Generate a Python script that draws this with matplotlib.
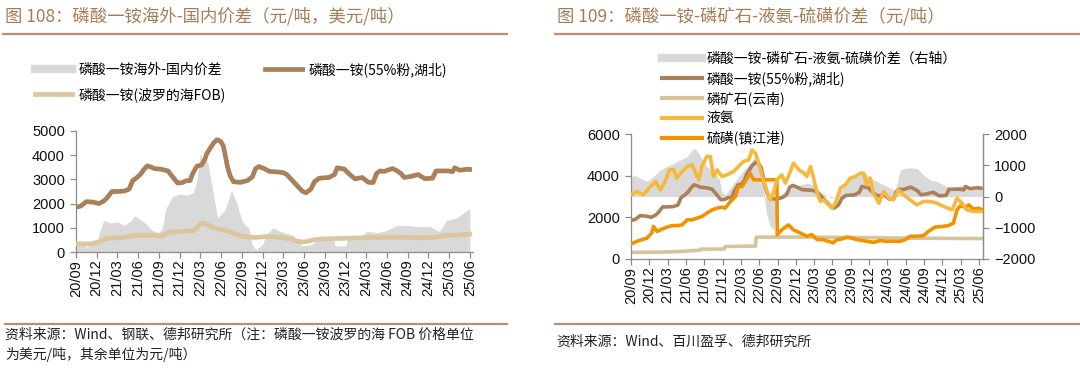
import matplotlib
matplotlib.use("Agg")
import matplotlib.pyplot as plt
from matplotlib.lines import Line2D
import numpy as np

plt.rcParams['font.family'] = ['Liberation Sans', 'Noto Sans CJK SC', 'DejaVu Sans']
CJK = ['Noto Sans CJK SC', 'DejaVu Sans']

# ---------------- data (x = months since 2020-09) ----------------
tick_labels = ['20/09', '20/12', '21/03', '21/06', '21/09', '21/12', '22/03', '22/06',
               '22/09', '22/12', '23/03', '23/06', '23/09', '23/12', '24/03', '24/06',
               '24/09', '24/12', '25/03', '25/06']

# 磷酸一铵(55%粉,湖北) 元/吨
map_m = [0, 0.7, 1.5, 2.5, 3.3, 4, 4.5, 5.2, 6, 7, 7.7, 8.2, 8.7, 9.3, 9.8, 10.3, 10.8, 11.3,
         12.3, 13.3, 14, 14.7, 15.3, 16, 16.5, 16.9, 17.5, 18.2, 18.6, 18.9, 19.4, 19.9, 20.4,
         20.9, 21.3, 21.6, 21.9, 22.3, 22.8, 23.8, 24.8, 25.5, 26, 26.5, 27.2, 28, 29.1, 30,
         30.5, 31, 31.8, 32.8, 33.3, 34, 34.5, 35.2, 36.6, 37.4, 37.8, 38.8, 39.7, 40.4, 41.4,
         42.3, 43, 43.5, 44, 44.6, 45.8, 46.5, 47, 47.5, 48.4, 49.5, 50.5, 51.6, 52.1, 53.9,
         54.5, 54.8, 55.5, 56.7, 57.3]
map_v = [1850, 1900, 2080, 2060, 2000, 2100, 2240, 2500, 2500, 2520, 2600, 2950, 3050, 3200,
         3400, 3560, 3520, 3450, 3420, 3350, 3100, 2850, 2860, 2950, 2950, 3250, 3550, 3600,
         3800, 4050, 4280, 4500, 4640, 4580, 4400, 4000, 3550, 3150, 2900, 2880, 2950, 3100,
         3450, 3530, 3450, 3330, 3310, 3280, 3200, 3050, 2800, 2500, 2450, 2600, 2900, 3050,
         3080, 3200, 3480, 3430, 3180, 3020, 3080, 2880, 2870, 3250, 3350, 3330, 3450, 3350,
         3250, 3080, 3120, 3200, 3030, 3050, 3350, 3350, 3320, 3480, 3380, 3420, 3400]

# 磷酸一铵(波罗的海FOB) 美元/吨
fob_m = [0, 1, 2, 2.8, 3.3, 4, 4.5, 5.5, 7, 8, 9, 10.5, 11.5, 12.3, 13, 13.6, 15, 16, 17, 17.5,
         18, 18.5, 19, 20, 20.5, 21.5, 22.3, 23, 23.8, 25, 26, 27.6, 29, 31, 32, 32.7, 33.5, 34,
         35.4, 37, 42, 44.8, 47, 49, 51, 52.1, 53.6, 55, 57.3]
fob_v = [350, 340, 330, 380, 420, 520, 570, 580, 600, 660, 700, 700, 680, 660, 750, 820, 850,
         860, 880, 1000, 1180, 1200, 1120, 1000, 950, 900, 830, 750, 660, 620, 600, 640, 620,
         540, 450, 410, 440, 480, 540, 550, 590, 610, 610, 590, 590, 610, 690, 700, 750]

# 磷酸一铵海外-国内价差
sp1_m = [0, 1, 1.5, 2, 2.5, 3, 3.5, 4, 4.5, 5, 6, 7, 8, 8.5, 9, 10, 11, 12, 12.5, 13, 14, 15,
         16, 17, 17.5, 18, 18.5, 19, 19.5, 20, 20.5, 21, 21.5, 22, 22.5, 23, 23.5, 24, 24.5, 25,
         25.5, 26, 27, 27.5, 28.5, 30, 31.4, 32.3, 32.6, 34, 35, 37.3, 37.5, 39, 39.4, 41, 42,
         43.7, 45, 46.5, 47.9, 49.3, 51.2, 52.6, 53.6, 55, 56, 57]
sp1_v = [350, 380, 200, 250, 380, 400, 900, 1300, 1250, 1200, 1250, 1100, 1300, 1500, 1400,
         1200, 900, 800, 1000, 1800, 2300, 2400, 2350, 2450, 3000, 4100, 3600, 3800, 3000, 2200,
         1400, 1600, 1700, 2100, 2550, 2200, 1800, 1300, 1100, 1000, 300, 100, 300, 700, 1000,
         800, 700, 400, 250, 300, 500, 500, 250, 250, 600, 550, 850, 800, 900, 1100, 1100, 1050,
         1050, 850, 1300, 1400, 1600, 1800]

# 磷矿石(云南)
rock_m = [0, 5, 8, 10, 11.3, 11.4, 15.3, 15.4, 20.4, 20.5, 30, 38, 45, 57.5]
rock_v = [320, 330, 360, 400, 420, 470, 480, 600, 620, 1050, 1050, 1030, 1000, 980]

# 液氨
amm_m = [0, 1, 2, 3.2, 4, 4.8, 5.6, 6.3, 7, 7.5, 8.4, 9.2, 10, 10.5, 11.1, 11.6, 12.4, 13,
         13.5, 14.1, 14.9, 15.7, 16.8, 17.6, 18.4, 19.3, 19.8, 20.4, 20.9, 21.5, 22, 22.8, 23.4,
         23.9, 24.7, 25.3, 26.1, 26.6, 27.5, 28.3, 28.8, 29.4, 29.9, 30.5, 31, 31.5, 32.1, 32.9,
         33.5, 34.3, 35.1, 35.9, 36.7, 37.6, 38.1, 38.6, 39.2, 39.7, 40.6, 41.4, 42.2, 43, 43.8,
         44.7, 45.7, 46.8, 47.9, 49, 50.1, 51.2, 52.6, 53.4, 54.2, 55, 56.1, 57.5]
amm_v = [3080, 3240, 3080, 3480, 3720, 3320, 3720, 4280, 4280, 3880, 4200, 4440, 4520, 4200,
         3800, 4440, 4920, 4920, 3960, 4280, 3960, 4040, 4200, 4440, 4680, 4760, 5230, 5070,
         4600, 3960, 3480, 2840, 3240, 3800, 4040, 3640, 4200, 4600, 4280, 4120, 3960, 4440,
         3880, 3160, 2760, 2840, 2680, 2440, 2680, 3400, 3560, 3880, 3960, 4120, 4120, 3560,
         3880, 3160, 2680, 3240, 2920, 2840, 3320, 3080, 2840, 2600, 2760, 2760, 2680, 2520,
         2360, 2920, 2680, 2360, 2280, 2280]

# 硫磺(镇江港)
sul_m = [0, 1, 1.8, 2.6, 3.4, 3.7, 4.3, 5.1, 5.9, 6.7, 7.5, 8.4, 9.2, 10, 10.8, 11.6, 12.4,
         13.3, 14.1, 14.9, 15.4, 16.3, 17.1, 17.6, 18.2, 18.7, 19.5, 20.1, 23.9, 23.95, 24.7,
         25.8, 26.6, 27.7, 28.8, 29.6, 30.5, 31.5, 32.3, 33.1, 33.7, 34.5, 35.4, 36.2, 37, 37.8,
         38.6, 39.7, 40.8, 41.9, 43, 44.1, 44.9, 45.7, 46.8, 47.9, 48.7, 49.8, 50.9, 52, 52.8,
         53.4, 53.9, 54.8, 55.3, 56.1, 56.9, 57.5]
sul_v = [730, 850, 930, 1000, 1250, 1560, 1320, 1440, 1530, 1600, 1600, 1640, 1880, 1880,
         1960, 2040, 2200, 2360, 2440, 2490, 2440, 2760, 3000, 3480, 3480, 3720, 4120, 3800,
         3800, 1170, 1400, 1640, 1400, 1250, 1090, 1170, 930, 930, 850, 770, 930, 960, 1050,
         1000, 930, 890, 850, 800, 880, 850, 850, 850, 930, 1090, 1090, 1120, 1320, 1530, 1560,
         1600, 1720, 2360, 2550, 2490, 2600, 2390, 2440, 2360]

# 磷酸一铵-磷矿石-液氨-硫磺价差（右轴）
sp2_m = [0, 0.5, 1.5, 2.6, 3.7, 4.8, 5.9, 7, 8.1, 9.2, 10, 10.5, 11.4, 12.4, 13.5, 14.4, 14.9,
         15.4, 16, 16.8, 17.9, 18.7, 19.5, 20.4, 20.9, 21.5, 22, 22.3, 22.8, 23.4, 23.6, 24,
         24.5, 25.6, 26.6, 27.7, 28.8, 29.9, 31, 31.8, 32.6, 33.5, 34.3, 35.4, 36.5, 37.6, 38.4,
         39.2, 40.3, 41.4, 42.5, 43.3, 44.1, 44.9, 45.7, 46.8, 47.9, 49, 50.1, 51.2, 52.3, 53.4,
         54.5, 55.6, 56.7, 57.5]
sp2_v = [600, 690, 585, 480, 640, 850, 960, 1060, 1170, 1280, 1490, 1540, 1280, 960, 800, 585,
         160, 50, 210, 425, 690, 900, 1060, 1280, 960, 640, -320, -640, -960, -1060, -745, -160,
         50, 210, 320, 370, 425, 370, 160, 50, -50, 0, 160, 480, 640, 745, 745, 585, 480, 370,
         265, 210, 850, 900, 920, 900, 690, 530, 480, 370, 265, 320, 370, 265, 265, 210]

# ---------------- style ----------------
C_MAP = '#A9805A'
C_FOB = '#DCC69E'
C_GRAY = '#D9D9D9'
C_ROCK = '#D8C49C'
C_AMM = '#F6B93B'
C_SUL = '#F39200'
C_TITLE = '#A87B55'
C_RULE = '#B98F72'
C_SPINE = '#8C8C8C'

W, H = 1080, 380
fig = plt.figure(figsize=(W / 100, H / 100), dpi=100)


def fx(px):
    return px / W


def fy(py):
    return 1 - py / H


def style_axis(ax, right=False):
    for s in ['top']:
        ax.spines[s].set_visible(False)
    ax.spines['right'].set_visible(right)
    for s in ['left', 'bottom', 'right']:
        ax.spines[s].set_color(C_SPINE)
        ax.spines[s].set_linewidth(0.9)
    ax.tick_params(axis='both', colors=C_SPINE, labelcolor='#111111', length=4,
                   width=0.9, direction='out', labelsize=10.5)
    ax.tick_params(axis='y', pad=4)
    ax.tick_params(axis='x', pad=1.5)
    ax.set_xticks(np.arange(0, 58, 3))
    ax.set_xticklabels(tick_labels, rotation=90)


# ---------------- left chart ----------------
axL = fig.add_axes([fx(76), fy(252), fx(473 - 76), (252 - 131) / H])
axL.fill_between(sp1_m, 0, sp1_v, color=C_GRAY, lw=0, zorder=1)
axL.plot(fob_m, fob_v, color=C_FOB, lw=3.4, zorder=3, solid_capstyle='butt')
axL.plot(map_m, map_v, color=C_MAP, lw=3.4, zorder=4, solid_capstyle='butt')
axL.set_xlim(0, 57.45)
axL.set_ylim(0, 5000)
axL.set_yticks(range(0, 5001, 1000))
style_axis(axL)

hL = [Line2D([], [], color=C_GRAY, lw=6),
      Line2D([], [], color=C_FOB, lw=3.4),
      Line2D([], [], color=C_MAP, lw=3.4)]
lL = ['磷酸一铵海外-国内价差', '磷酸一铵(波罗的海FOB)', '磷酸一铵(55%粉,湖北)']
fig.legend(hL, lL, loc='upper left', bbox_to_anchor=(fx(28), fy(55)), ncol=2,
           frameon=False, prop={'family': CJK, 'size': 10}, handlelength=2.7,
           handletextpad=0.45, columnspacing=2.8, labelspacing=0.75, borderpad=0)

# ---------------- right chart ----------------
axR = fig.add_axes([fx(631), fy(259), fx(983 - 631), (259 - 134) / H])
axR2 = axR.twinx()
axR2.fill_between(sp2_m, 0, sp2_v, color=C_GRAY, lw=0)
axR2.set_ylim(-2000, 2000)
axR2.set_yticks(range(-2000, 2001, 1000))
axR.set_zorder(axR2.get_zorder() + 1)
axR.patch.set_visible(False)
axR.plot(rock_m, rock_v, color=C_ROCK, lw=2.6, zorder=2)
axR.plot(map_m, map_v, color=C_MAP, lw=2.6, zorder=3)
axR.plot(sul_m, sul_v, color=C_SUL, lw=2.6, zorder=4)
axR.plot(amm_m, amm_v, color=C_AMM, lw=2.6, zorder=5)
axR.set_xlim(0, 57.65)
axR.set_ylim(0, 6000)
axR.set_yticks(range(0, 6001, 2000))
style_axis(axR, right=True)
for s in ['top', 'left', 'bottom']:
    axR2.spines[s].set_visible(False)
axR2.spines['right'].set_color(C_SPINE)
axR2.spines['right'].set_linewidth(0.9)
axR2.tick_params(axis='y', colors=C_SPINE, labelcolor='#111111', length=4, width=0.9,
                 labelsize=10.5, pad=4)

hR = [Line2D([], [], color=C_GRAY, lw=6),
      Line2D([], [], color=C_MAP, lw=3),
      Line2D([], [], color=C_ROCK, lw=3),
      Line2D([], [], color=C_AMM, lw=3),
      Line2D([], [], color=C_SUL, lw=3)]
lR = ['磷酸一铵-磷矿石-液氨-硫磺价差（右轴）', '磷酸一铵(55%粉,湖北)', '磷矿石(云南)', '液氨',
      '硫磺(镇江港)']
leg = fig.legend(hR, lR, loc='upper left', bbox_to_anchor=(fx(655), fy(45)), ncol=1,
                 frameon=False, prop={'family': CJK, 'size': 10}, handlelength=2.9,
                 handletextpad=0.3, labelspacing=0.38, borderpad=0)
leg.set_zorder(20)

# ---------------- titles, rules, sources ----------------
fig.text(fx(5), fy(16), '图 108：磷酸一铵海外-国内价差（元/吨，美元/吨）', family=CJK,
         size=12.5, color=C_TITLE, va='center', ha='left')
fig.text(fx(557), fy(16), '图 109：磷酸一铵-磷矿石-液氨-硫磺价差（元/吨）', family=CJK,
         size=12.5, color=C_TITLE, va='center', ha='left')

for x0, x1, y in [(3, 507, 34), (555, 1080, 34), (5, 507, 324), (555, 1080, 324)]:
    fig.add_artist(Line2D([fx(x0), fx(x1)], [fy(y), fy(y)], color=C_RULE, lw=1.6,
                          transform=fig.transFigure))

fig.text(fx(5), fy(335), '资料来源：Wind、钢联、德邦研究所（注：磷酸一铵波罗的海 FOB 价格单位',
         family=CJK, size=10, color='#222222', va='center', ha='left')
fig.text(fx(5), fy(355), '为美元/吨，其余单位为元/吨）', family=CJK, size=10,
         color='#222222', va='center', ha='left')
fig.text(fx(556), fy(342), '资料来源：Wind、百川盈孚、德邦研究所', family=CJK, size=10,
         color='#222222', va='center', ha='left')

fig.savefig('out.png', dpi=100)
